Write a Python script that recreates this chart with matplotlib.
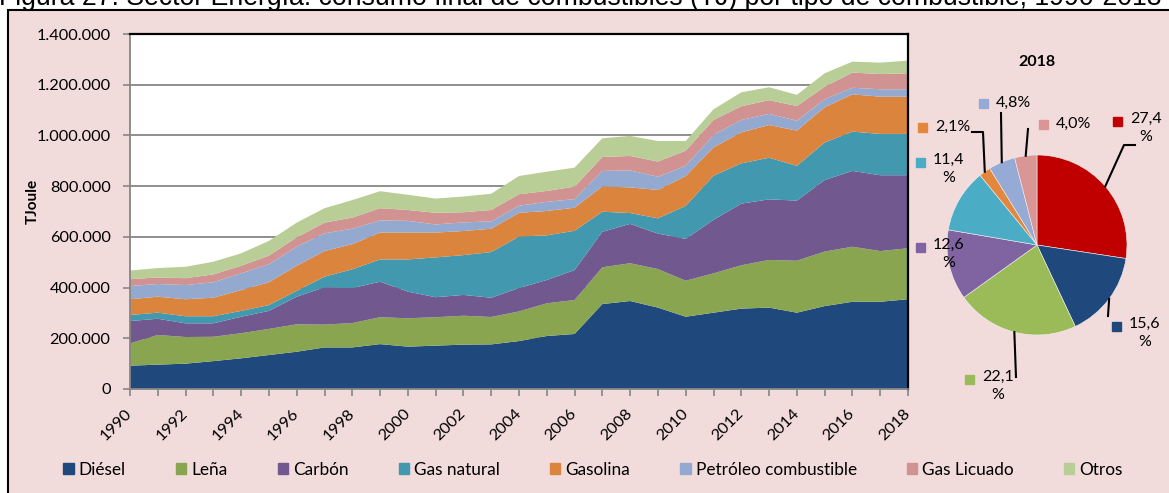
import matplotlib
matplotlib.use('Agg')
import matplotlib.pyplot as plt
from matplotlib.patches import Rectangle
from matplotlib.transforms import ScaledTranslation
import numpy as np

plt.rcParams['font.family'] = ['Lato', 'DejaVu Sans']

years = list(range(1990, 2019))
# TJ (thousands)
diesel = [92, 96, 100, 110, 121, 134, 147, 164, 164, 177, 167, 171, 175, 176, 189,
          209, 217, 335, 347, 321, 285, 301, 317, 321, 301, 327, 344, 344, 354]
lena = [88, 117, 105, 96, 99, 103, 108, 90, 96, 106, 112, 112, 114, 108, 117,
        129, 134, 145, 149, 152, 142, 155, 171, 188, 205, 215, 217, 200, 201]
carbon = [88, 64, 54, 53, 65, 71, 109, 147, 138, 140, 105, 79, 82, 76, 92,
          92, 118, 140, 155, 140, 165, 211, 243, 239, 237, 282, 299, 299, 288]
gas_natural = [24, 24, 28, 28, 23, 23, 23, 42, 74, 88, 127, 157, 157, 180, 203,
               176, 155, 79, 43, 60, 130, 174, 159, 164, 137, 148, 155, 163, 163]
gasolina = [62, 63, 67, 73, 82, 90, 99, 101, 99, 106, 106, 98, 95, 92, 94,
            96, 91, 100, 101, 112, 118, 112, 122, 129, 139, 139, 147, 147, 147]
petroleo = [52, 50, 56, 61, 66, 71, 75, 70, 61, 48, 46, 32, 34, 29, 28,
            36, 34, 61, 67, 52, 40, 49, 49, 44, 39, 32, 26, 29, 29]
gas_licuado = [27, 26, 27, 31, 30, 34, 37, 42, 44, 48, 43, 46, 40, 45, 45,
               43, 49, 55, 57, 60, 60, 59, 54, 54, 58, 49, 60, 60, 63]
otros = [34, 37, 45, 50, 49, 58, 58, 57, 69, 67, 60, 56, 62, 64, 72,
         76, 75, 74, 79, 81, 38, 42, 55, 51, 44, 53, 43, 45, 50]

names = ['Diésel', 'Leña', 'Carbón', 'Gas natural', 'Gasolina',
         'Petróleo combustible', 'Gas Licuado', 'Otros']
area_colors = ['#1f497d', '#8aa550', '#71588f', '#4198af', '#db843d',
               '#93a9cf', '#d19392', '#b9cd96']

pie_values = [27.4, 15.6, 22.1, 12.6, 11.4, 2.1, 4.8, 4.0]
pie_labels = ['27,4\n%', '15,6\n%', '22,1\n%', '12,6\n%', '11,4\n%', '2,1%', '4,8%', '4,0%']
pie_colors = ['#c00000', '#1f497d', '#9bbb59', '#8064a2', '#4bacc6',
              '#e3873e', '#95abd5', '#d99694']

title = ('Figura 27. Sector Energía: consumo final de combustibles (TJ) '
         'por tipo de combustible, 1990-2018')

W, H = 1169, 493
fig = plt.figure(figsize=(W / 100, H / 100), dpi=100, facecolor='white')
bg = '#f2dcdb'

def fx(px):
    return px / W

def fy(py):
    return 1 - py / H

# pink frame
fig.add_artist(Rectangle((fx(8), -0.02), 1.1, fy(10) + 0.02, transform=fig.transFigure,
                         facecolor=bg, edgecolor='black', linewidth=1.5, zorder=-1))
fig.text(fx(-1), fy(5), title, ha='left', va='baseline', fontsize=19.2,
         family='Liberation Sans')

# stacked area
ax = fig.add_axes([fx(130), fy(389), fx(908) - fx(130), fy(34) - fy(389)])
ax.set_facecolor('white')
series = [np.array(s) * 1000 for s in [diesel, lena, carbon, gas_natural, gasolina,
                                         petroleo, gas_licuado, otros]]
ax.stackplot(years, *series, colors=area_colors, linewidth=0, zorder=2)
ax.set_xlim(1990, 2018)
ax.set_ylim(0, 1400000)
yt = np.arange(0, 1400001, 200000)
ax.set_yticks(yt)
ax.set_yticklabels([f'{v:,.0f}'.replace(',', '.') for v in yt], fontsize=11.8)
ax.set_xticks(years)
ax.set_xticklabels([str(y) if y % 2 == 0 else '' for y in years], rotation=45,
                   ha='right', va='top', fontsize=11.8)
ax.tick_params(axis='both', direction='out', length=5, color='#868686', width=1.2)
ax.tick_params(axis='x', pad=7.5)
ax.tick_params(axis='y', pad=9)
shift = ScaledTranslation(5 / 100, 0, fig.dpi_scale_trans)
for lab in ax.get_xticklabels():
    lab.set_transform(lab.get_transform() + shift)
ax.grid(axis='y', color='#868686', linewidth=1.3, zorder=1)
ax.set_axisbelow(True)
for s in ['top', 'right']:
    ax.spines[s].set_color('black')
    ax.spines[s].set_linewidth(1.6)
for s in ['left', 'bottom']:
    ax.spines[s].set_color('#868686')
    ax.spines[s].set_linewidth(1.3)
ax.set_ylabel('TJoule', fontsize=11, fontweight='bold')
ax.yaxis.set_label_coords((40 - 130) / 778, (389 - 201) / 355)

handles = [Rectangle((0, 0), 1, 1, color=c) for c in area_colors]
fig.legend(handles, names, loc='center', bbox_to_anchor=(fx(593), fy(470)), ncol=8,
           frameon=False, fontsize=12.4, handlelength=0.6, handleheight=0.6,
           handletextpad=0.3, columnspacing=2.9)

# pie
cx, cy, r = 1037, 245, 90
pax = fig.add_axes([fx(cx - r), fy(cy + r), fx(2 * r), fy(0) - fy(2 * r)])
pax.pie(pie_values, colors=pie_colors, startangle=90, counterclock=False,
        wedgeprops=dict(linewidth=0.4, edgecolor='#f0f0f0'))
pax.set_xlim(-1, 1)
pax.set_ylim(-1, 1)
pax.set_aspect('auto')
pax.axis('off')

ov = fig.add_axes([0, 0, 1, 1], facecolor='none')
ov.set_xlim(0, W)
ov.set_ylim(H, 0)
ov.axis('off')
ov.text(cx, 62, '2018', ha='center', va='center', fontsize=11.5, fontweight='bold')

# label layout: marker centre, leader path end points (pixels)
label_pos = [(1117, 121), (1116, 326), (969, 379), (920, 247), (920, 162),
             (922, 127), (983, 103), (1043, 124)]
leaders = [[(1124, 145), (1135, 145)], [(1108, 316)], [(1016, 377)], None, None,
           [(983, 132), (972, 132)], [(1001, 113)], [(1028, 129)]]

total = sum(pie_values)
cum = 0
for v, lab, col, (mx, my), lead in zip(pie_values, pie_labels, pie_colors,
                                       label_pos, leaders):
    mid = np.deg2rad(90 - 360 * (cum + v / 2) / total)
    cum += v
    ov.add_patch(Rectangle((mx - 4.5, my - 4.5), 9, 9, color=col))
    if '\n' in lab:
        ov.text(mx + 13, my - 9, lab, ha='left', va='top', fontsize=11.5,
                multialignment='center', linespacing=1.4)
    else:
        ov.text(mx + 13, my, lab, ha='left', va='center', fontsize=11.5)
    if lead:
        pts = [(cx + r * np.cos(mid), cy - r * np.sin(mid))] + lead
        xs, ys = zip(*pts)
        ov.plot(xs, ys, color='black', linewidth=1.5)

fig.savefig('out.png', dpi=100, facecolor=fig.get_facecolor())
